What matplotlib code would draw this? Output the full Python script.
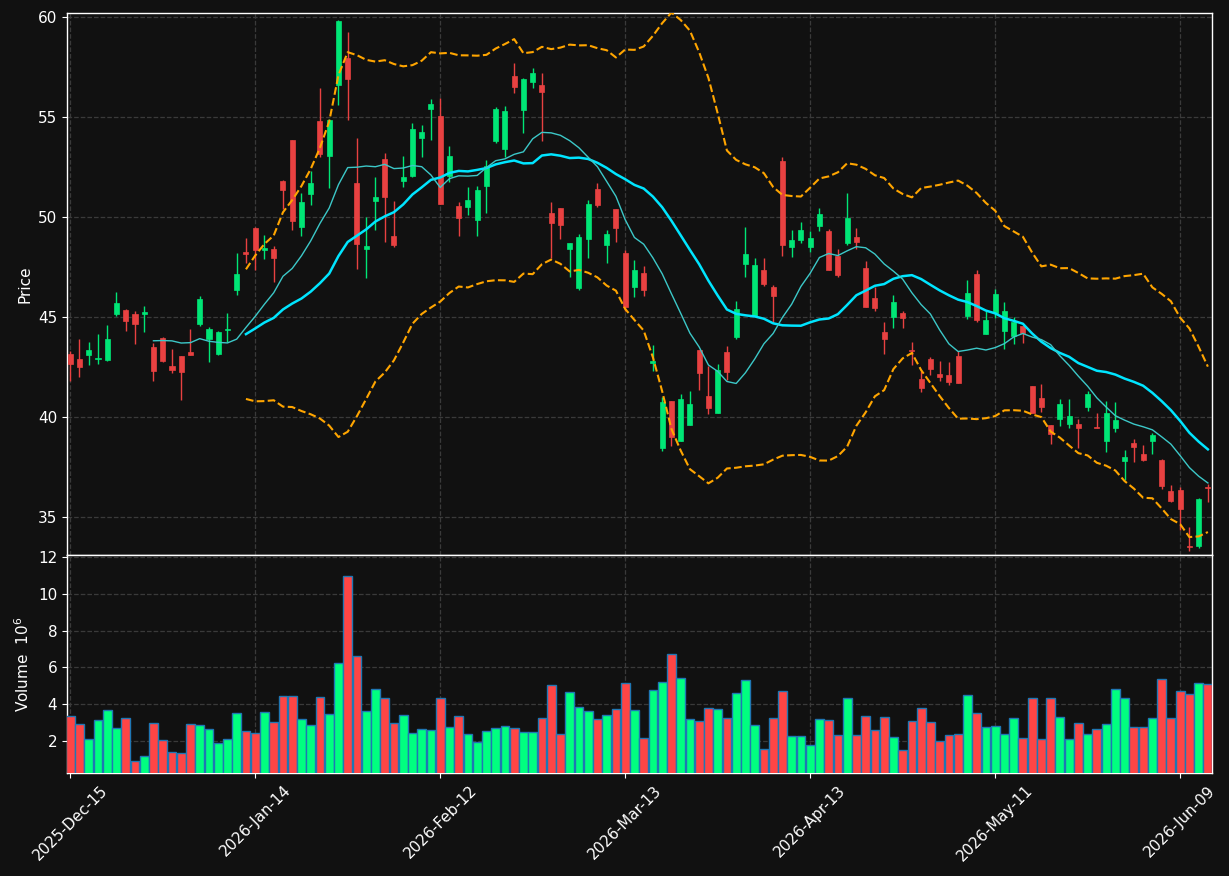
import numpy as np
import pandas as pd
import matplotlib
matplotlib.use("Agg")
import matplotlib.pyplot as plt

# daily OHLC + volume (millions)
opens = [43.15, 42.90, 43.12, 42.88, 42.85, 45.17, 45.35, 45.15, 45.17, 43.50,
         43.97, 42.55, 43.05, 43.25, 44.67, 43.90, 43.17, 44.36, 46.37, 48.27,
         49.47, 48.35, 48.40, 51.80, 53.85, 49.52, 51.17, 54.80, 53.07, 56.62,
         57.95, 51.72, 48.42, 50.82, 52.90, 49.05, 51.82, 52.07, 53.97, 55.40,
         55.05, 52.07, 50.55, 50.52, 49.85, 51.57, 53.80, 53.38, 57.05, 55.37,
         56.77, 56.60, 50.18, 50.43, 48.42, 46.45, 48.90, 51.40, 48.60, 50.40,
         48.20, 46.52, 47.20, 42.72, 38.47, 40.80, 38.82, 39.62, 43.35, 41.05,
         40.22, 43.25, 44.02, 47.67, 45.07, 47.35, 46.50, 52.80, 48.52, 48.87,
         48.52, 49.57, 49.30, 48.05, 48.72, 49.00, 47.45, 45.95, 44.25, 45.02,
         45.20, 43.35, 41.90, 42.90, 42.15, 42.10, 43.05, 45.07, 47.15, 44.13,
         45.20, 44.30, 44.07, 44.55, 41.55, 40.95, 39.60, 39.92, 39.67, 39.65,
         40.52, 39.50, 38.82, 39.47, 37.82, 38.68, 38.15, 38.82, 37.85, 36.30,
         36.33, 33.55, 33.55, 36.50]
highs = [43.32, 43.90, 43.73, 44.13, 44.58, 46.23, 45.40, 45.28, 45.53, 43.68,
         44.00, 43.40, 43.05, 44.40, 46.05, 44.48, 44.30, 45.18, 48.18, 48.93,
         49.50, 49.10, 48.55, 51.85, 53.85, 51.20, 52.28, 56.43, 54.90, 59.85,
         59.23, 53.93, 50.02, 52.02, 53.18, 50.80, 53.05, 54.68, 54.58, 55.90,
         55.97, 53.55, 50.73, 51.50, 51.53, 52.85, 55.52, 55.55, 57.68, 56.93,
         57.43, 57.18, 50.73, 50.43, 48.68, 49.15, 50.85, 51.72, 49.35, 50.40,
         48.35, 47.83, 47.53, 43.60, 40.98, 40.80, 41.13, 41.28, 43.35, 42.55,
         42.63, 43.55, 45.82, 49.52, 47.93, 47.93, 46.58, 52.98, 49.35, 49.73,
         49.28, 50.43, 49.40, 48.40, 51.18, 49.43, 47.78, 46.52, 44.77, 46.08,
         45.30, 43.73, 42.28, 43.02, 42.80, 42.73, 43.30, 46.85, 47.35, 45.28,
         46.38, 45.73, 45.00, 44.55, 41.55, 41.63, 39.60, 40.88, 40.88, 39.92,
         41.32, 40.18, 40.82, 40.73, 38.33, 38.88, 38.58, 39.18, 37.90, 36.60,
         36.52, 34.52, 35.95, 36.63]
lows = [41.80, 41.98, 42.58, 42.63, 42.82, 45.07, 44.32, 43.63, 44.23, 41.82,
        42.75, 42.22, 40.85, 43.10, 44.53, 42.77, 43.10, 43.77, 46.10, 47.68,
        47.35, 47.88, 46.77, 50.40, 49.37, 49.07, 50.60, 53.02, 51.43, 55.62,
        54.83, 47.38, 46.93, 49.35, 48.77, 48.48, 51.48, 52.02, 53.02, 53.83,
        50.65, 51.77, 49.03, 50.12, 49.03, 50.18, 53.68, 53.02, 56.18, 54.20,
        56.43, 53.78, 47.93, 48.88, 46.98, 46.35, 47.93, 50.52, 47.68, 48.77,
        45.30, 45.98, 46.07, 42.32, 38.32, 38.57, 38.82, 39.62, 41.37, 40.13,
        40.22, 41.85, 43.88, 46.98, 45.07, 46.57, 44.77, 48.07, 48.02, 48.72,
        48.27, 49.28, 47.37, 47.02, 48.62, 48.42, 45.48, 45.28, 43.13, 44.43,
        44.43, 42.60, 41.23, 42.10, 41.82, 41.58, 41.70, 44.90, 44.73, 44.13,
        44.93, 43.38, 43.65, 43.68, 40.20, 40.23, 38.67, 39.57, 39.43, 38.43,
        40.28, 39.43, 38.23, 39.23, 36.85, 37.77, 37.82, 38.17, 36.40, 35.77,
        34.35, 33.32, 33.45, 35.77]
closes = [42.67, 42.52, 43.35, 42.93, 43.90, 45.70, 44.82, 44.67, 45.25, 42.30,
          42.80, 42.35, 42.27, 43.12, 45.90, 44.40, 44.25, 44.40, 47.15, 48.13,
          48.35, 48.45, 47.97, 51.35, 49.82, 50.73, 51.70, 53.13, 54.85, 59.80,
          56.90, 48.65, 48.55, 51.00, 51.02, 48.60, 51.98, 54.40, 54.25, 55.65,
          50.67, 53.05, 49.97, 50.85, 51.35, 52.55, 55.40, 55.32, 56.52, 56.90,
          57.18, 56.27, 49.72, 49.62, 48.68, 49.00, 50.65, 50.60, 49.15, 49.47,
          45.52, 47.35, 46.37, 42.78, 40.73, 39.02, 40.90, 40.65, 42.22, 40.47,
          42.35, 42.27, 45.38, 48.13, 47.58, 46.67, 46.07, 48.62, 48.85, 49.35,
          48.95, 50.15, 47.37, 47.10, 49.95, 48.75, 45.52, 45.47, 43.92, 45.75,
          44.97, 43.30, 41.47, 42.40, 42.00, 41.77, 41.70, 46.20, 44.85, 44.85,
          46.15, 45.30, 44.77, 44.18, 40.20, 40.50, 39.17, 40.63, 40.05, 39.47,
          41.15, 39.45, 40.18, 39.85, 37.98, 38.52, 37.85, 39.10, 36.57, 35.80,
          35.40, 33.48, 35.88, 36.45]
volumes = [3.34, 2.91, 2.09, 3.12, 3.67, 2.69, 3.23, 0.90, 1.17, 2.96,
           2.04, 1.39, 1.33, 2.91, 2.85, 2.64, 1.88, 2.09, 3.51, 2.53,
           2.42, 3.56, 3.02, 4.43, 4.43, 3.18, 2.85, 4.37, 3.45, 6.22,
           10.95, 6.60, 3.61, 4.81, 4.32, 2.96, 3.40, 2.42, 2.64, 2.58,
           4.32, 2.74, 3.34, 2.40, 1.96, 2.53, 2.69, 2.80, 2.69, 2.47,
           2.47, 3.23, 5.03, 2.36, 4.65, 3.87, 3.61, 3.18, 3.40, 3.72,
           5.14, 3.67, 2.15, 4.76, 5.19, 6.71, 5.41, 3.18, 3.07, 3.78,
           3.72, 3.23, 4.59, 5.30, 2.85, 1.55, 3.23, 4.70, 2.26, 2.26,
           1.77, 3.18, 3.12, 2.31, 4.32, 2.31, 3.34, 2.58, 3.29, 2.20,
           1.49, 3.07, 3.78, 3.02, 1.98, 2.31, 2.36, 4.48, 3.51, 2.74,
           2.80, 2.36, 3.23, 2.15, 4.32, 2.09, 4.32, 3.29, 2.09, 2.96,
           2.36, 2.64, 2.91, 4.81, 4.32, 2.74, 2.74, 3.23, 5.35, 3.23,
           4.70, 4.54, 5.14, 5.08]
holidays = ["2025-12-25", "2026-01-01", "2026-01-19", "2026-02-16",
            "2026-04-03", "2026-05-25"]

dates = pd.bdate_range("2025-12-15", "2026-06-12", freq="C", holidays=holidays)
df = pd.DataFrame({"Open": opens, "High": highs, "Low": lows,
                   "Close": closes, "Volume": volumes}, index=dates[:len(opens)])
x = np.arange(len(df))
up = (df["Close"] >= df["Open"]).values

ma10 = df["Close"].rolling(10).mean()
ma20 = df["Close"].rolling(20).mean()
sd20 = df["Close"].rolling(20).std(ddof=0)
bb_up = ma20 + 2 * sd20
bb_lo = ma20 - 2 * sd20

BG = "#111111"
c_up, c_dn = "#00e676", "#e84141"
v_up, v_dn = "#00ff80", "#ff4545"

plt.rcParams.update({"text.color": "white", "axes.labelcolor": "white",
                     "xtick.color": "white", "ytick.color": "white",
                     "font.size": 11})

fig = plt.figure(figsize=(12.29, 8.76), dpi=100, facecolor=BG)
ax = fig.add_axes([0.0545, 0.3664, 0.9317, 0.6188], facecolor=BG)
axv = fig.add_axes([0.0545, 0.1176, 0.9317, 0.2488], facecolor=BG, sharex=ax)

# candles
cols = np.where(up, c_up, c_dn)
ax.vlines(x, df["Low"], df["High"], colors=cols, linewidth=1, zorder=3)
body_lo = np.minimum(df["Open"], df["Close"])
body_h = np.maximum(np.abs(df["Close"] - df["Open"]), 0.05)
ax.bar(x, body_h, bottom=body_lo, width=0.55, color=cols, edgecolor=cols,
       linewidth=0.5, zorder=4)

ax.plot(x, ma20, color="#00e5ff", linewidth=1.8, zorder=5)
ax.plot(x, ma10, color="#3cc8c8", linewidth=1.0, zorder=5)
ax.plot(x, bb_up, color="orange", linestyle="--", linewidth=1.5, zorder=5)
ax.plot(x, bb_lo, color="orange", linestyle="--", linewidth=1.5, zorder=5)

ax.set_ylim(33.1, 60.2)
ax.set_yticks([35, 40, 45, 50, 55, 60])
ax.set_ylabel("Price")

# volume
axv.bar(x, df["Volume"], width=0.95, color=np.where(up, v_up, v_dn),
        edgecolor="#1f77b4", linewidth=1, zorder=3)
axv.set_ylim(0.26, 12.1)
axv.set_yticks([2, 4, 6, 8, 10, 12])
axv.set_ylabel("Volume  $10^{6}$")

ticks = list(range(0, len(df), 20))
axv.set_xticks(ticks)
axv.set_xticklabels([df.index[i].strftime("%Y-%b-%d") for i in ticks], rotation=45)
axv.set_xlim(-0.35, 123.45)
ax.tick_params(axis="x", labelbottom=False, length=0)

for a in (ax, axv):
    a.grid(True, color="#3a3a3a", linestyle="--", linewidth=0.9)
    a.set_axisbelow(True)
    for s in a.spines.values():
        s.set_color("white")
        s.set_linewidth(1)

fig.savefig("out.png", dpi=100, facecolor=BG)
